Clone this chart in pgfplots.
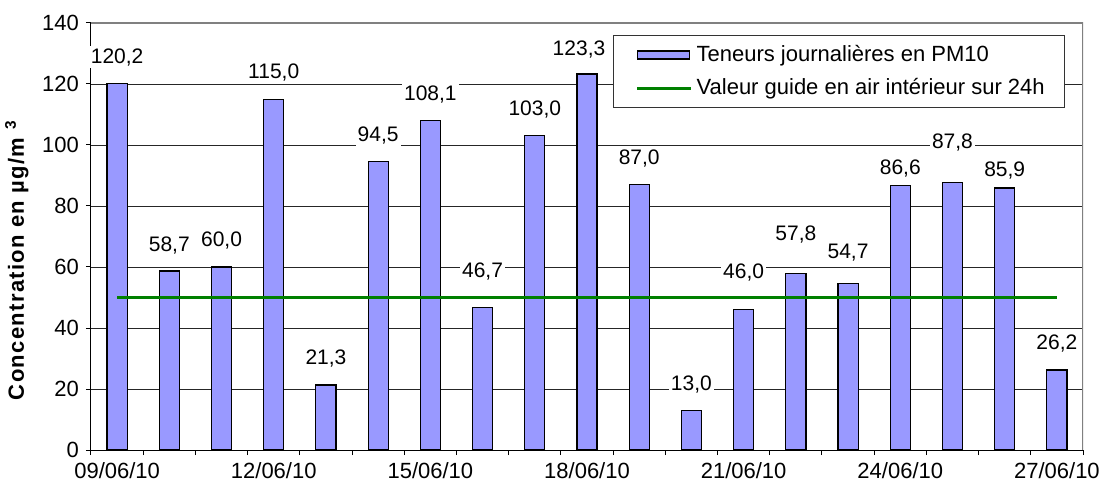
\documentclass[border=0pt]{standalone}
\usepackage{pgfplots}
\pgfplotsset{compat=1.18}
\usepackage{fontspec}
\setmainfont{Liberation Sans}
\definecolor{barblue}{RGB}{153,153,255}
\definecolor{guidegreen}{RGB}{0,128,0}
\pgfplotsset{
  barlegend/.style={legend image code/.code={\path (0pt,0pt); \draw[##1] (3pt,-2pt) rectangle (29pt,2pt);}},
  linelegend/.style={legend image code/.code={\path (0pt,0pt); \draw[##1] (3pt,0pt) -- (30pt,0pt);}},
}
\begin{document}
\begin{tikzpicture}
\begin{axis}[
  scale only axis,
  width=496pt, height=213.5pt,
  font=\fontsize{11}{13}\selectfont,
  /pgf/number format/assume math mode=true,
  xmin=0, xmax=19, ymin=0, ymax=140,
  xtick={0.5,3.5,...,18.5},
  xticklabels={09/06/10,12/06/10,15/06/10,18/06/10,21/06/10,24/06/10,27/06/10},
  minor xtick={0,1,...,19},
  ytick={0,20,...,140},
  tick align=outside,
  xtick style={draw=none},
  minor x tick style={draw=black, line width=0.5pt},
  ytick style={black, line width=0.5pt},
  major tick length=2.5pt, minor tick length=2.5pt,
  xtick pos=bottom, ytick pos=left,
  axis x line*=bottom, axis y line*=left,
  axis line style={black, line width=0.5pt, -},
  ymajorgrids,
  grid style={black!85, line width=0.4pt},
  ylabel={\addfontfeature{LetterSpace=6}\bfseries Concentration en µg/m\hspace{4pt}\textsuperscript{3}},
  ylabel style={at={(ticklabel cs:0.445)}, font=\fontsize{11}{13}\selectfont},
  legend style={at={(0.982,0.972)}, anchor=north east, draw=black!80, fill=white,
    font=\fontsize{11}{13}\selectfont, row sep=3pt, inner xsep=8pt, inner ysep=3pt,
    cells={anchor=west}},
]
\addplot[ybar, bar shift=0pt, bar width=0.385, fill=barblue, draw=black, line width=0.6pt,
  visualization depends on={\thisrow{dx} \as \dx},
  visualization depends on={\thisrow{dy} \as \dy},
  nodes near coords={\pgfmathprintnumber[fixed,fixed zerofill,precision=1,use comma]{\pgfplotspointmeta}},
  every node near coord/.append style={anchor=south, yshift=7.5pt, xshift=\dx pt, yshift=\dy pt,
    fill=white, inner sep=1pt, text=black, font=\fontsize{10.5}{12}\selectfont},
  barlegend
] table {
x     y      dx    dy
0.5   120.2  0     0
1.5   58.7   0     -0.5
2.5   60.0   0     0
3.5   115.0  0     0
4.5   21.3   0     0
5.5   94.5   0     0
6.5   108.1  0     0
7.5   46.7   0     5
8.5   103.0  0     0
9.5   123.3  -4    -1
10.5  87.0   0     0
11.5  13.0   0     0
12.5  46.0   0     5.25
13.5  57.8   0     6.25
14.5  54.7   0     2.25
15.5  86.6   0     -4.25
16.5  87.8   0     6.5
17.5  85.9   0     -4.5
18.5  26.2   0     0
};
\addlegendentry{Teneurs journalières en PM10}
\addplot[guidegreen, line width=1.5pt, mark=none, linelegend] coordinates {(0.5,50) (18.5,50)};
\addlegendentry{Valeur guide en air intérieur sur 24h}
\draw[black!50, line width=0.6pt] (rel axis cs:0,1) -- (rel axis cs:1,1) -- (rel axis cs:1,0);
\coordinate (ll) at (rel axis cs:0,0);
\coordinate (ur) at (rel axis cs:1,1);
\end{axis}
\pgfresetboundingbox
\path ([xshift=-45.5pt,yshift=-21pt]ll) rectangle ([xshift=9pt,yshift=11.5pt]ur);
\end{tikzpicture}
\end{document}
